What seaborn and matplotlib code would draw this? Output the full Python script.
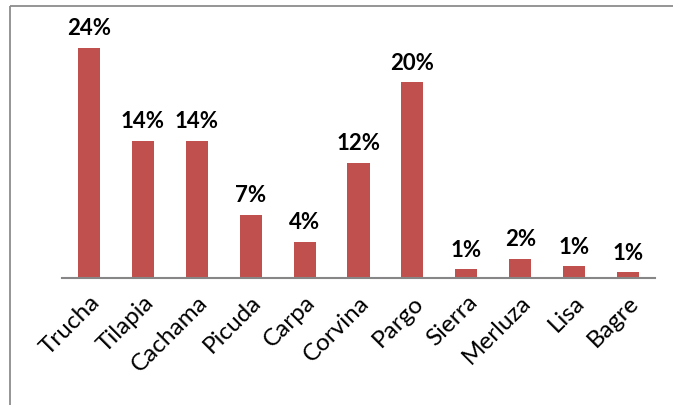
import matplotlib
matplotlib.use("Agg")
import matplotlib.pyplot as plt
import seaborn as sns
import pandas as pd
from matplotlib.lines import Line2D

categories = ["Trucha", "Tilapia", "Cachama", "Picuda", "Carpa", "Corvina",
              "Pargo", "Sierra", "Merluza", "Lisa", "Bagre"]
values = [24.0, 14.3, 14.3, 6.6, 3.8, 12.0, 20.4, 0.9, 2.0, 1.2, 0.6]

df = pd.DataFrame({"pez": categories, "pct": values})

sns.set_theme(style="white")
plt.rcParams["font.family"] = ["Lato", "DejaVu Sans"]

fig = plt.figure(figsize=(6.73, 4.05), dpi=100)
fig.patch.set_edgecolor("white")
fig.patch.set_linewidth(0)
ax = fig.add_axes([62/673, 1 - 278/405, (655-62)/673, 240/405])

sns.barplot(data=df, x="pez", y="pct", color="#C0504D", width=0.41,
            saturation=1, ax=ax, edgecolor="none")

ax.set_ylim(0, 25)
ax.set_xlim(-0.5, len(categories) - 0.5)
ax.set_xlabel("")
ax.set_ylabel("")
ax.set_yticks([])
for s in ["top", "right", "left"]:
    ax.spines[s].set_visible(False)
ax.spines["bottom"].set_color("#868686")
ax.spines["bottom"].set_linewidth(1.5)
ax.tick_params(axis="x", length=0, pad=10)
for lab in ax.get_xticklabels():
    lab.set_rotation(45)
    lab.set_ha("right")
    lab.set_rotation_mode("anchor")
    lab.set_fontsize(17.5)
    lab.set_color("black")

for i, v in enumerate(values):
    ax.annotate(f"{v:.0f}%", (i, v), xytext=(0, 6), textcoords="offset points",
                ha="center", va="bottom", fontsize=16, fontweight="bold",
                color="black", annotation_clip=False)

top_y = 1 - 6/405
left_x = 10/673
fig.add_artist(Line2D([left_x, 1.01], [top_y, top_y], transform=fig.transFigure,
                      color="#8C8C8C", linewidth=1.3, solid_capstyle="butt"))
fig.add_artist(Line2D([left_x, left_x], [-0.01, top_y], transform=fig.transFigure,
                      color="#8C8C8C", linewidth=1.3, solid_capstyle="butt"))

fig.savefig("out.png", dpi=100, facecolor="white", edgecolor="none")
